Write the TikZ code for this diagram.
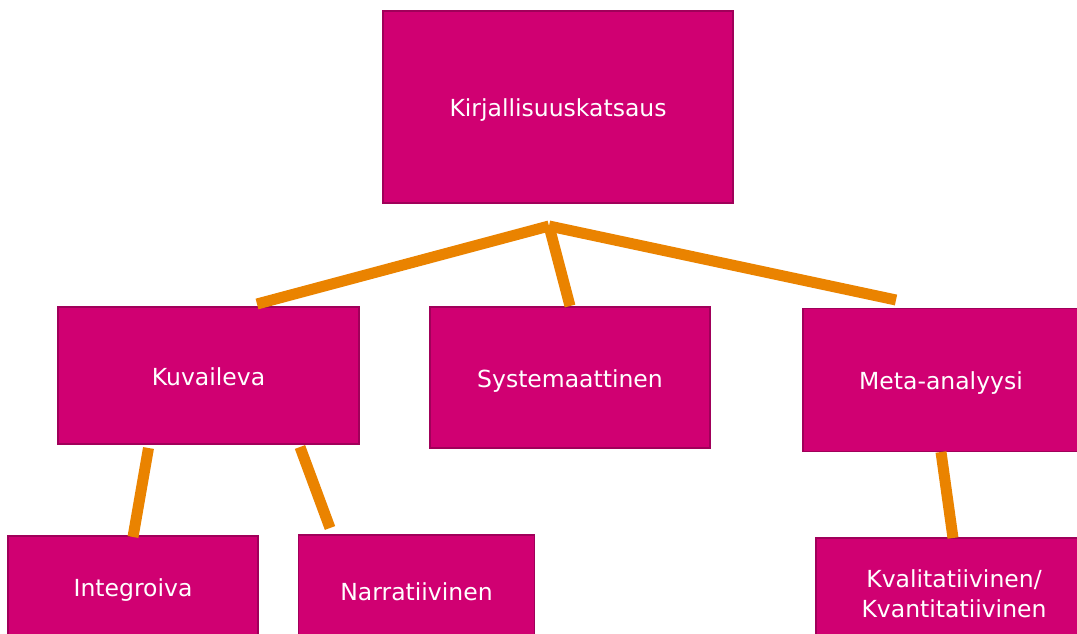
\documentclass[tikz,border=0pt]{standalone}
\usepackage{fontspec}
\setmainfont{DejaVu Sans}
\definecolor{boxfill}{RGB}{208,0,114}
\definecolor{boxline}{RGB}{160,0,90}
\definecolor{linkorange}{RGB}{234,131,0}
\begin{document}
\begin{tikzpicture}[x=1pt,y=-1pt,
  box/.style={rectangle,draw=boxline,line width=1.5pt,fill=boxfill,text=white,
    inner sep=0pt,align=center,font=\fontsize{23.5}{30}\selectfont},
  boxone/.style={box,text height=19pt,text depth=0pt},
  link/.style={draw=linkorange,line width=11pt,line cap=butt}]
\useasboundingbox (0,0) rectangle (1077,634);
\clip (0,0) rectangle (1077,634);
\fill[white] (0,0) rectangle (1077,634);
\node[boxone,minimum width=350pt,minimum height=192pt] (top) at (558,107) {Kirjallisuuskatsaus};
\node[boxone,minimum width=301pt,minimum height=137pt] (kuv) at (208.5,375.5) {Kuvaileva};
\node[boxone,minimum width=280pt,minimum height=141pt] (sys) at (570,377.5) {Systemaattinen};
\node[boxone,minimum width=276pt,minimum height=143pt] (meta) at (941,380) {Meta-analyysi};
\node[boxone,minimum width=250pt,minimum height=102pt] (integ) at (133,587) {Integroiva};
\node[boxone,minimum width=236pt,minimum height=112pt] (narr) at (416.5,591) {Narratiivinen};
\node[box,minimum width=276pt,minimum height=112pt] (kval) at (954,594) {Kvalitatiivinen/\\Kvantitatiivinen};
\coordinate (apex) at (549,226);
\coordinate (kuvtop) at (257,304);
\coordinate (systop) at (570,306);
\coordinate (metatop) at (896,300);
\coordinate (kuvbl) at (148.5,448);
\coordinate (integtop) at (133,537);
\coordinate (kuvbr) at (300,447);
\coordinate (narrtop) at (330,528);
\coordinate (metabot) at (941,452);
\coordinate (kvaltop) at (953,538);
\draw[link] (apex) -- (kuvtop);
\draw[link] (apex) -- (systop);
\draw[link] (apex) -- (metatop);
\draw[link] (kuvbl) -- (integtop);
\draw[link] (kuvbr) -- (narrtop);
\draw[link] (metabot) -- (kvaltop);
\end{tikzpicture}
\end{document}
